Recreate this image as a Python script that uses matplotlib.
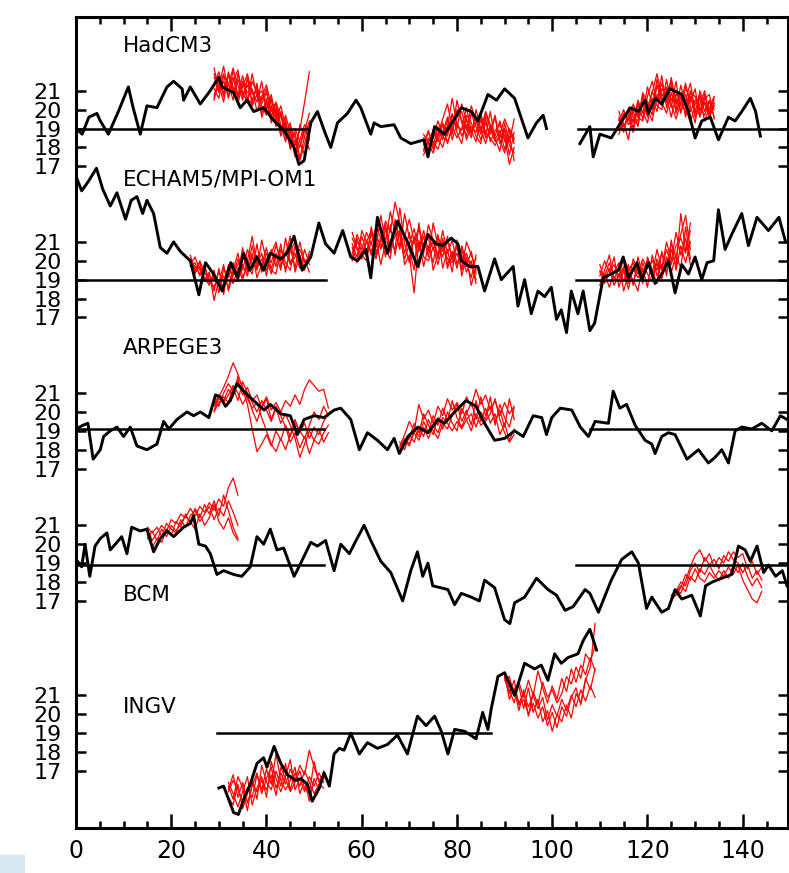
"""
Stacked SST time series: control runs (black) with hindcast ensembles (red)
"""
import matplotlib

matplotlib.use("Agg")
import matplotlib.pyplot as plt
import numpy as np
from matplotlib.patches import Rectangle

nan = np.nan

# ---------------------------------------------------------------
# control runs (year, degC)
# ---------------------------------------------------------------
had_yr = [0, 1.3, 2.7, 4.4, 5.1, 6.8, 8.9, 11.0, 12.0, 13.5, 14.9, 17.0, 19.1, 20.5,
          22.3, 22.6, 24.0, 26.1, 27.9, 30.0, 30.7, 33.1, 34.5, 35.9, 37.3, 39.4, 41.6,
          43.7, 45.8, 46.8, 47.9, 49.3, 50.7, 52.4, 53.5, 54.9, 57.0, 58.8, 59.8, 61.9,
          62.6, 64.0, 66.8, 68.2, 70.3, 73.1, 73.9, 75.3, 77.4, 79.2, 80.9, 83.0, 84.4,
          86.5, 88.3, 90.0, 92.1, 94.9, 96.7, 98.1, 98.8, 102.0, 105.8, 107.9, 108.6,
          110.0, 112.4, 114.6, 116.4, 118.1, 119.5, 120.2, 121.6, 123.0, 124.7, 127.2,
          128.6, 130.0, 131.4, 133.2, 134.9, 137.0, 138.4, 139.8, 141.6, 142.7, 143.7]
had_t = [19.0, 18.7, 19.6, 19.8, 19.4, 18.7, 19.9, 21.2, 20.1, 18.7, 20.2, 20.1, 21.2, 21.5,
         21.1, 20.5, 21.2, 20.3, 20.9, 21.7, 21.2, 20.9, 20.1, 20.5, 19.9, 20.1, 19.4,
         18.9, 18.0, 17.1, 17.3, 19.3, 19.9, 18.7, 18.0, 19.3, 19.8, 20.5, 20.1, 18.7,
         19.3, 19.1, 19.2, 18.5, 18.2, 18.4, 17.5, 19.1, 18.7, 19.4, 20.1, 19.9, 19.4,
         20.8, 20.5, 21.1, 20.6, 18.5, 19.3, 19.7, 19.0, nan, 18.2, 19.1, 17.5,
         18.7, 18.5, 19.4, 20.1, 19.9, 20.5, 19.8, 20.6, 20.3, 21.1, 20.8,
         19.9, 18.5, 19.4, 19.6, 18.4, 19.6, 19.4, 19.9, 20.6, 19.9, 18.6]

ech_yr = [0.1, 1.2, 2.6, 4.3, 5.6, 7.2, 8.6, 10.4, 11.6, 12.8, 14.0, 14.9, 16.3, 17.7,
          19.1, 20.5, 21.9, 24.0, 25.8, 27.2, 28.9, 30.7, 32.5, 33.9, 35.2, 36.5, 38.0,
          39.4, 40.8, 43.0, 44.3, 45.8, 47.5, 49.3, 51.0, 52.4, 54.2, 56.0, 57.7, 59.1,
          60.9, 61.9, 63.3, 64.7, 65.4, 67.5, 69.6, 71.7, 73.9, 75.6, 77.0, 78.8, 80.2,
          80.9, 82.7, 84.4, 85.8, 87.9, 89.3, 91.8, 92.8, 94.2, 95.6, 97.0, 98.4, 99.8,
          100.9, 101.9, 103.0, 104.0, 105.4, 106.5, 107.9, 108.9, 110.7, 112.4, 113.9,
          114.9, 116.0, 117.8, 118.8, 120.2, 121.6, 123.0, 124.4, 125.8, 127.2, 128.6,
          130.0, 131.4, 132.5, 133.9, 134.9, 136.3, 137.7, 139.8, 141.2, 143.0, 145.4,
          147.6, 149.0]
ech_t = [24.4, 23.7, 24.2, 24.9, 23.8, 22.9, 23.6, 22.2, 23.2, 23.4, 22.5, 23.2, 22.5, 20.7,
         20.4, 21.0, 20.5, 20.0, 18.2, 19.9, 19.3, 18.4, 19.9, 19.1, 20.4, 19.5, 20.2,
         19.5, 20.4, 20.1, 20.4, 21.3, 19.5, 20.2, 22.0, 20.9, 20.4, 21.6, 20.2, 20.0,
         20.6, 19.1, 22.3, 21.0, 20.4, 22.1, 21.0, 19.7, 21.4, 20.9, 20.8, 21.2, 20.9,
         20.0, 19.7, 19.7, 18.4, 20.1, 19.0, 19.7, 17.6, 19.0, 17.2, 18.4, 18.1, 18.6,
         16.9, 17.4, 16.2, 18.4, 17.2, 18.4, 16.3, 16.7, 19.1, 19.3, 19.5,
         20.2, 19.1, 19.9, 19.0, 19.9, 18.8, 19.3, 20.0, 18.3, 19.8, 19.3,
         20.2, 19.0, 19.9, 20.0, 22.7, 20.6, 21.4, 22.5, 20.8, 22.3, 21.6,
         22.3, 21.0]

arp_yr = [0, 1.5, 2.5, 3.6, 5.1, 5.8, 7.2, 8.6, 10.0, 11.4, 12.8, 14.9, 17.0, 18.4, 19.5,
          21.2, 23.3, 24.7, 26.1, 27.9, 29.3, 30.3, 31.4, 32.4, 33.8, 35.2, 37.3, 39.5,
          40.8, 43.0, 45.0, 46.5, 47.9, 50.0, 52.1, 54.2, 55.6, 57.7, 59.5, 61.2, 63.3,
          65.4, 66.8, 67.9, 69.7, 71.8, 73.9, 76.0, 77.4, 79.5, 81.9, 84.0, 85.8, 87.9,
          90.0, 92.1, 93.9, 96.0, 97.8, 98.8, 99.9, 101.7, 104.1, 105.9, 107.6, 109.0,
          111.8, 112.8, 114.2, 115.6, 117.4, 119.5, 120.9, 121.6, 123.0, 124.4, 125.8,
          128.3, 130.7, 132.8, 134.2, 135.6, 137.0, 138.4, 139.8, 141.9, 144.0, 146.1,
          147.9, 149.3]
arp_t = [19.1, 19.3, 19.4, 17.5, 18.0, 18.7, 19.0, 19.2, 18.7, 19.2, 18.2, 18.0, 18.3, 19.5, 19.1,
         19.6, 20.0, 19.8, 20.0, 19.7, 20.9, 20.8, 20.3, 20.6, 21.5, 21.1, 20.6, 20.1,
         20.4, 19.9, 19.8, 18.8, 19.6, 19.8, 19.7, 20.1, 20.2, 19.6, 18.0, 18.9, 18.5,
         18.0, 18.6, 17.8, 18.7, 19.2, 18.9, 19.6, 19.4, 20.0, 20.6, 20.3, 19.4, 18.5,
         18.6, 19.0, 18.7, 19.8, 19.7, 18.8, 19.7, 20.2, 20.1, 19.2, 18.7, 19.5,
         19.4, 21.1, 20.2, 20.4, 19.3, 18.5, 18.3, 17.8, 18.7, 18.9, 18.8,
         17.5, 18.0, 17.3, 17.6, 18.0, 17.3, 19.0, 19.2, 19.1, 19.4, 19.0,
         19.8, 19.6]

bcm_yr = [0, 1.2, 1.9, 2.9, 4.0, 5.1, 6.5, 7.2, 8.6, 9.6, 10.7, 11.7, 13.5, 14.9, 16.3,
          17.7, 19.1, 20.5, 22.6, 24.0, 24.7, 25.8, 27.2, 28.2, 29.6, 31.0, 33.1, 34.8,
          36.6, 38.0, 39.4, 40.8, 42.2, 43.6, 45.8, 47.2, 49.3, 50.7, 52.4, 54.2, 55.6,
          57.4, 58.4, 60.5, 61.9, 64.0, 66.1, 68.6, 70.3, 71.7, 72.8, 73.9, 74.9, 78.1,
          79.5, 80.9, 83.0, 84.7, 85.8, 87.9, 90.0, 91.1, 92.1, 94.2, 96.7, 99.1, 100.9,
          102.7, 104.4, 106.9, 107.9, 109.7, 112.4, 114.6, 116.7, 118.1, 119.8, 120.9,
          123.0, 124.4, 125.8, 127.2, 129.3, 131.1, 132.2, 133.6, 135.6, 137.7, 139.1,
          140.5, 141.6, 143.0, 144.4, 145.4, 146.9, 148.3, 149.3]
bcm_t = [19.2, 18.8, 20.0, 18.3, 19.9, 20.3, 20.6, 19.7, 20.1, 20.4, 19.5, 20.9, 20.7, 20.8, 19.6,
         20.3, 20.7, 20.4, 20.9, 21.1, 21.5, 20.0, 19.9, 19.5, 18.4, 18.6, 18.4, 18.3,
         18.8, 20.4, 20.0, 20.8, 19.7, 19.8, 18.3, 19.0, 20.1, 19.9, 20.2, 18.6, 20.0,
         19.5, 20.0, 21.0, 20.2, 19.1, 18.5, 17.0, 18.6, 19.6, 18.3, 19.0, 17.8, 17.6,
         16.8, 17.4, 17.2, 17.0, 18.1, 17.7, 16.0, 15.8, 16.9, 17.2, 18.2, 17.6, 17.3,
         16.5, 16.7, 17.6, 17.4, 16.4, 18.1, 19.2, 19.6, 19.0, 16.6, 17.2,
         16.4, 16.6, 17.6, 17.1, 17.3, 16.2, 17.8, 18.0, 18.2, 18.4, 19.9,
         19.7, 19.1, 19.9, 18.5, 18.9, 18.3, 18.6, 17.8]

ing_yr = [30.0, 31.0, 33.1, 34.1, 35.5, 36.6, 38.0, 39.4, 40.1, 41.6, 43.0, 44.4, 46.1,
          47.2, 48.6, 49.6, 51.1, 52.1, 53.2, 54.2, 55.3, 56.3, 57.7, 59.5, 61.2, 63.3,
          65.4, 67.5, 69.6, 71.7, 73.5, 75.3, 76.7, 78.1, 79.5, 81.6, 84.0, 85.4, 86.5,
          87.2, 88.6, 90.0, 92.1, 94.2, 96.3, 97.7, 99.1, 100.5, 101.9, 103.3, 105.4,
          106.5, 107.9, 109.3]
ing_t = [16.1, 16.2, 14.8, 14.7, 15.7, 16.3, 17.4, 17.7, 17.2, 18.3, 17.4, 16.8, 16.5,
         16.6, 16.3, 15.4, 16.1, 16.9, 16.2, 17.9, 18.2, 18.1, 19.0, 17.9, 18.5, 18.2,
         18.4, 18.9, 17.9, 19.9, 19.4, 19.9, 19.1, 17.9, 19.2, 19.1, 18.7, 20.1, 19.2,
         20.3, 22.0, 22.2, 21.0, 22.7, 22.4, 22.6, 21.8, 23.2, 22.7, 23.0, 23.2,
         23.9, 24.5, 23.4]

# ---------------------------------------------------------------
# hindcast ensembles: first year + annual values per member
# ---------------------------------------------------------------
had_e1_start = 29
had_e1 = [
    [21.4, 22.0, 21.1, 21.8, 20.9, 21.6, 20.8, 21.3, 20.5, 21.2, 20.3, 20.9, 19.9, 20.4, 19.6, 19.0, 18.6, 18.1, 18.9, 20.4, 22.0],
    [20.8, 21.2, 22.3, 21.0, 21.7, 20.6, 21.5, 20.4, 21.9, 20.7, 21.0, 20.1, 20.6, 19.4, 19.9, 18.7, 19.3, 17.8, 18.4, 19.2, 18.9],
    [21.9, 20.9, 21.5, 20.7, 22.1, 21.3, 20.5, 21.7, 20.2, 20.8, 19.8, 20.6, 19.3, 20.1, 18.9, 19.5, 18.2, 18.8, 17.4, 18.6, 19.4],
    [20.5, 21.6, 20.7, 21.9, 21.2, 20.3, 21.4, 20.9, 21.1, 19.9, 20.7, 21.3, 20.2, 19.1, 19.8, 18.5, 18.9, 17.6, 18.1, 19.0, 18.4],
    [21.1, 20.6, 21.8, 21.4, 20.5, 21.9, 20.9, 20.4, 21.5, 20.9, 20.2, 19.7, 20.5, 19.8, 18.6, 19.3, 17.9, 18.4, 17.3, 18.2, 19.1],
    [21.7, 21.3, 20.4, 22.0, 21.1, 20.8, 21.8, 20.6, 20.3, 21.4, 19.6, 20.4, 19.6, 20.3, 19.2, 18.3, 19.1, 18.5, 18.0, 18.9, 19.8],
    [22.2, 21.0, 21.9, 20.6, 21.5, 22.1, 20.7, 21.6, 21.0, 20.4, 21.5, 20.0, 20.8, 19.5, 20.2, 19.1, 18.0, 19.0, 18.3, 17.6, 18.5],
    [20.6, 21.8, 20.9, 21.3, 22.2, 20.7, 21.2, 21.9, 20.8, 21.0, 20.5, 21.1, 19.7, 20.0, 18.8, 19.7, 18.8, 17.5, 19.2, 18.5, 17.9],
]
had_e2_start = 73
had_e2 = [
    [18.4, 17.9, 18.8, 18.3, 19.2, 18.6, 19.7, 19.0, 20.3, 19.4, 18.8, 19.6, 18.9, 19.9, 19.2, 18.6, 19.4, 18.3, 19.0, 18.5],
    [17.8, 18.5, 18.1, 19.0, 18.4, 19.5, 18.7, 20.5, 19.3, 18.6, 19.8, 19.1, 18.4, 19.3, 18.7, 19.6, 18.2, 18.9, 17.6, 18.8],
    [18.7, 18.2, 17.7, 18.6, 19.3, 18.2, 19.1, 18.5, 19.0, 20.1, 18.9, 18.3, 19.5, 18.6, 19.9, 18.4, 18.9, 17.9, 18.6, 17.3],
    [18.1, 18.8, 18.3, 17.9, 18.8, 19.6, 18.4, 19.3, 18.6, 19.2, 18.5, 20.0, 19.0, 18.2, 19.1, 18.5, 17.8, 19.3, 18.3, 19.5],
    [17.6, 18.3, 18.9, 18.5, 18.0, 18.9, 19.8, 18.8, 18.2, 19.7, 19.3, 18.6, 18.2, 19.6, 18.3, 18.9, 19.2, 18.6, 17.1, 18.0],
    [18.5, 17.7, 18.5, 19.1, 18.6, 18.3, 18.9, 20.0, 19.5, 18.4, 19.1, 18.8, 19.7, 18.8, 18.5, 18.1, 18.7, 19.5, 18.9, 18.2],
    [18.2, 18.9, 17.9, 18.7, 19.5, 20.3, 19.0, 19.6, 19.9, 18.9, 20.2, 19.4, 18.7, 19.8, 19.0, 18.3, 18.5, 19.0, 18.1, 17.7],
    [17.9, 18.3, 18.6, 19.4, 18.7, 19.1, 20.6, 19.2, 18.9, 19.5, 18.7, 19.3, 19.9, 18.5, 18.9, 19.7, 18.4, 17.7, 18.8, 18.4],
]
had_e3_start = 114
had_e3 = [
    [19.2, 19.8, 19.4, 20.3, 19.7, 20.6, 20.1, 20.9, 21.9, 20.7, 21.2, 20.5, 21.0, 20.2, 20.8, 19.9, 20.5, 20.1, 19.7, 20.4, 20.0],
    [18.7, 19.5, 20.0, 19.3, 20.5, 19.8, 21.2, 20.3, 20.6, 21.4, 20.4, 21.7, 20.3, 20.9, 19.6, 20.7, 19.8, 21.0, 20.3, 19.6, 20.2],
    [19.6, 18.9, 19.7, 19.9, 19.1, 20.8, 19.6, 21.0, 20.2, 20.0, 21.1, 20.1, 21.5, 19.8, 21.2, 20.4, 21.1, 19.6, 20.6, 20.8, 19.5],
    [18.9, 19.3, 18.4, 20.1, 19.6, 19.4, 20.3, 19.7, 21.3, 20.4, 19.8, 20.9, 20.0, 21.3, 20.1, 19.3, 20.3, 20.6, 19.4, 20.1, 20.7],
    [19.9, 19.1, 19.6, 18.8, 20.2, 19.9, 19.3, 20.6, 19.9, 21.1, 20.7, 19.6, 20.8, 20.6, 19.8, 21.0, 19.6, 20.3, 21.0, 19.8, 20.3],
    [19.4, 20.0, 19.2, 19.5, 19.2, 20.4, 20.0, 19.4, 20.8, 20.2, 21.6, 20.3, 19.5, 20.4, 21.4, 20.2, 19.3, 20.8, 19.9, 20.5, 19.6],
    [19.0, 19.7, 19.9, 19.0, 20.4, 19.5, 20.7, 21.5, 20.4, 21.8, 20.1, 21.3, 20.6, 19.9, 20.5, 21.4, 20.0, 19.7, 20.4, 19.9, 20.6],
    [19.5, 18.8, 20.1, 19.6, 19.4, 20.9, 20.4, 20.0, 21.6, 20.5, 20.9, 21.5, 19.8, 20.7, 20.3, 20.9, 20.7, 19.9, 20.8, 19.7, 20.4],
]

ech_e1_start = 24
ech_e1 = [
    [20.0, 19.7, 19.3, 19.6, 19.0, 18.6, 19.4, 18.9, 19.7, 19.2, 20.1, 19.5, 20.6, 19.8, 20.3, 19.6, 20.4, 19.9, 20.8, 20.2, 19.6, 20.5, 21.0, 20.1, 19.7, 20.3],
    [19.8, 20.2, 19.5, 19.1, 18.7, 19.5, 18.3, 19.6, 19.1, 19.9, 19.3, 20.7, 19.4, 20.2, 19.5, 21.1, 20.0, 19.6, 20.4, 19.5, 21.2, 19.9, 20.4, 19.6, 20.6, 19.8],
    [20.3, 19.5, 19.9, 19.0, 19.4, 17.9, 19.0, 18.5, 19.4, 18.8, 19.6, 19.0, 20.0, 21.3, 19.8, 20.4, 19.2, 20.6, 19.7, 20.9, 19.4, 20.7, 19.6, 21.0, 19.9, 20.1],
    [19.7, 19.9, 19.2, 19.8, 18.8, 19.2, 18.7, 19.2, 18.6, 19.5, 20.4, 19.1, 19.7, 19.3, 20.9, 19.4, 20.1, 19.3, 20.2, 20.0, 20.3, 21.3, 19.4, 20.3, 19.5, 20.5],
    [20.1, 19.4, 19.7, 18.9, 19.3, 18.4, 19.6, 18.2, 19.8, 19.0, 18.9, 19.8, 19.2, 20.4, 19.1, 19.8, 20.7, 19.5, 19.3, 20.6, 19.9, 19.5, 20.8, 19.8, 20.1, 19.4],
    [19.9, 19.3, 20.0, 19.4, 18.9, 19.1, 18.8, 19.8, 18.4, 19.3, 19.8, 20.3, 19.6, 20.8, 19.6, 20.1, 19.5, 20.4, 21.0, 19.7, 20.5, 19.8, 20.2, 20.6, 19.9, 20.2],
]
ech_e2_start = 58
ech_e2 = [
    [20.4, 21.0, 20.6, 21.5, 20.9, 21.8, 21.2, 22.1, 21.5, 23.1, 22.0, 21.3, 22.2, 21.0, 21.7, 20.8, 21.4, 20.6, 21.3, 20.5, 21.0, 20.2, 20.7, 19.9, 20.4, 19.6, 20.1],
    [20.9, 20.2, 21.3, 20.5, 21.4, 20.7, 22.4, 21.0, 22.6, 21.5, 20.6, 22.5, 21.2, 20.9, 21.8, 20.4, 21.9, 21.1, 20.3, 21.6, 20.4, 21.1, 19.8, 20.6, 19.7, 20.5, 19.3],
    [21.2, 20.6, 20.1, 21.1, 20.3, 21.5, 20.6, 21.7, 20.4, 21.9, 21.3, 20.1, 20.9, 21.7, 20.5, 21.3, 20.2, 22.0, 20.8, 20.2, 21.3, 20.0, 20.9, 20.3, 19.4, 20.0, 18.8],
    [20.0, 21.4, 20.8, 20.2, 21.0, 20.1, 21.3, 20.2, 21.9, 20.3, 21.7, 19.8, 20.3, 18.3, 21.1, 19.7, 20.8, 19.9, 21.4, 19.6, 20.6, 19.4, 21.1, 19.2, 20.2, 18.7, 19.7],
    [20.7, 19.9, 21.6, 21.0, 20.5, 21.2, 19.8, 21.0, 20.9, 20.6, 22.8, 20.9, 19.9, 21.3, 19.6, 20.9, 21.3, 19.5, 20.3, 21.0, 19.8, 20.5, 19.6, 20.8, 19.9, 19.1, 20.3],
    [21.5, 20.7, 20.3, 20.0, 21.8, 20.5, 20.9, 20.6, 20.1, 22.2, 20.8, 21.4, 20.6, 19.5, 22.0, 20.2, 20.0, 20.7, 19.8, 20.8, 20.1, 19.9, 20.4, 19.6, 21.0, 20.3, 19.5],
    [20.1, 21.2, 20.4, 21.0, 21.6, 20.3, 21.1, 21.9, 20.7, 21.3, 21.6, 20.4, 21.5, 20.1, 20.6, 21.6, 20.5, 21.0, 20.1, 21.2, 19.6, 20.3, 20.8, 19.5, 20.1, 19.9, 19.0],
]
ech_e3_start = 110
ech_e3 = [
    [19.2, 20.0, 19.4, 19.8, 19.1, 20.2, 19.5, 19.9, 19.3, 20.1, 19.6, 20.0, 19.5, 20.4, 19.8, 20.9, 20.2, 21.4, 22.4, 20.6],
    [18.7, 19.5, 20.3, 19.0, 19.7, 18.9, 19.8, 18.7, 20.2, 19.2, 19.9, 19.3, 20.6, 19.6, 21.0, 20.0, 21.5, 20.3, 21.2, 19.8],
    [19.5, 18.8, 19.3, 20.2, 18.6, 19.5, 18.5, 19.6, 19.1, 19.6, 18.6, 20.3, 19.2, 19.8, 19.4, 20.6, 19.7, 22.5, 20.5, 21.6],
    [18.9, 19.3, 18.6, 19.4, 19.9, 18.4, 19.3, 19.0, 18.4, 19.9, 19.3, 18.9, 19.9, 19.0, 20.2, 19.4, 20.3, 19.6, 21.8, 20.1],
    [19.8, 19.0, 19.6, 18.7, 19.3, 19.6, 18.8, 20.1, 19.5, 18.8, 20.2, 19.5, 18.8, 20.5, 19.2, 21.1, 19.5, 20.8, 19.9, 21.0],
    [19.4, 19.2, 19.9, 19.1, 18.9, 19.7, 19.4, 18.8, 19.8, 19.4, 20.0, 19.1, 20.1, 19.5, 20.6, 19.8, 20.8, 21.2, 20.4, 22.0],
]

arp_e1_start = 29
arp_e1 = [
    [20.3, 20.8, 21.3, 21.9, 22.6, 22.0, 21.2, 20.4, 19.1, 17.9, 18.3, 18.8, 18.2, 19.0, 18.5, 19.3, 18.7, 19.6, 18.9, 19.4, 18.6, 19.2, 18.8, 19.5, 19.9],
    [20.6, 20.3, 21.0, 21.5, 21.1, 21.7, 20.9, 21.3, 20.6, 20.9, 20.2, 20.7, 19.6, 20.3, 19.8, 19.2, 18.4, 18.9, 18.1, 18.7, 17.8, 18.5, 19.1, 18.4, 18.9],
    [20.1, 20.7, 20.5, 20.9, 21.4, 21.0, 20.4, 20.9, 20.1, 19.5, 20.3, 20.8, 20.1, 20.5, 20.0, 20.6, 20.3, 20.9, 20.4, 21.2, 21.7, 21.4, 21.1, 21.2, 20.2],
    [20.4, 20.9, 20.6, 21.2, 20.8, 21.9, 21.3, 20.7, 20.2, 20.5, 19.7, 19.0, 18.3, 17.9, 18.6, 18.0, 18.8, 19.4, 19.0, 18.6, 19.3, 20.0, 19.6, 20.3, 19.8],
    [20.0, 20.5, 20.8, 20.5, 21.3, 20.6, 21.6, 21.0, 20.5, 20.0, 20.6, 20.1, 19.5, 20.2, 19.4, 19.9, 19.3, 18.6, 17.6, 18.3, 19.0, 18.5, 18.3, 18.9, 19.3],
]
arp_e2_start = 68
arp_e2 = [
    [18.2, 18.8, 19.5, 19.0, 20.4, 19.6, 20.1, 19.4, 20.3, 19.8, 20.7, 20.1, 20.5, 19.9, 20.8, 20.3, 21.2, 20.4, 20.9, 20.1, 20.6, 19.8, 20.5, 19.9, 20.3],
    [17.9, 18.5, 18.2, 19.1, 18.7, 19.5, 18.9, 19.8, 19.3, 20.2, 19.5, 20.6, 19.7, 19.2, 19.9, 20.5, 19.6, 20.8, 19.8, 20.3, 19.5, 20.1, 19.2, 20.7, 19.6],
    [18.4, 18.0, 18.8, 18.4, 19.2, 18.7, 19.6, 19.0, 18.6, 19.4, 19.1, 19.8, 20.4, 19.5, 20.1, 19.3, 20.6, 19.5, 20.2, 19.4, 19.9, 18.8, 19.4, 18.5, 19.1],
    [17.8, 18.3, 18.6, 19.4, 18.9, 19.9, 19.3, 18.8, 19.7, 19.1, 20.0, 19.4, 19.0, 20.2, 19.6, 19.9, 19.2, 20.0, 19.6, 20.8, 19.3, 20.4, 19.7, 19.2, 20.2],
    [18.1, 18.6, 18.3, 18.9, 18.5, 19.2, 18.6, 19.3, 18.9, 19.7, 19.4, 19.0, 19.5, 19.1, 19.6, 19.0, 19.9, 19.3, 19.5, 19.9, 20.7, 19.6, 18.9, 18.4, 18.8],
]

bcm_e1_start = 15
bcm_e1 = [
    [20.8, 20.2, 20.6, 21.0, 20.7, 21.3, 21.1, 21.6, 21.4, 21.9, 21.5, 22.0, 21.7, 22.2, 21.8, 22.4, 22.0, 23.0, 23.5, 22.6],
    [20.5, 19.8, 20.3, 20.1, 20.8, 20.5, 21.2, 20.9, 21.6, 21.1, 21.9, 21.4, 22.1, 21.6, 22.3, 21.5, 22.6, 21.8, 20.9, 20.3],
    [20.9, 20.6, 20.9, 20.4, 21.1, 20.8, 20.6, 21.3, 20.9, 21.5, 21.8, 21.2, 21.6, 22.0, 21.3, 21.9, 21.5, 22.3, 21.7, 21.0],
    [20.3, 20.7, 20.2, 20.8, 20.4, 21.0, 20.7, 21.1, 21.5, 21.2, 20.8, 21.6, 21.0, 21.4, 22.1, 21.2, 20.8, 21.4, 20.6, 20.2],
]
bcm_e2_start = 125
bcm_e2 = [
    [17.2, 17.6, 17.4, 18.1, 18.8, 19.4, 19.7, 19.1, 19.5, 18.8, 19.3, 19.0, 19.6, 19.2, 19.0, 18.5, 18.9, 18.2, 18.6, 18.1],
    [17.0, 17.4, 17.8, 17.5, 18.3, 18.0, 18.7, 18.4, 18.9, 19.2, 18.7, 19.4, 19.1, 19.6, 19.3, 19.5, 18.7, 19.1, 18.4, 18.8],
    [17.1, 17.3, 17.7, 18.4, 18.1, 18.7, 18.2, 18.0, 18.5, 18.2, 18.6, 18.3, 18.8, 18.4, 18.9, 18.1, 17.6, 17.1, 16.9, 17.5],
    [17.3, 17.5, 18.0, 17.8, 18.6, 19.0, 18.5, 19.3, 18.9, 18.4, 18.1, 18.6, 18.2, 18.9, 18.5, 19.0, 18.3, 17.8, 18.2, 17.7],
]

ing_e1_start = 32
ing_e1 = [
    [16.0, 16.8, 15.6, 16.4, 15.3, 16.2, 16.9, 15.8, 16.6, 17.2, 16.1, 16.9, 16.3, 17.1, 16.5, 17.3, 16.8, 18.1, 17.2, 16.5, 16.8],
    [15.6, 15.2, 16.3, 15.0, 15.8, 16.6, 15.5, 17.3, 16.4, 16.0, 17.0, 16.2, 17.4, 16.0, 16.9, 16.2, 17.0, 16.4, 15.8, 16.3, 16.1],
    [16.4, 15.8, 15.1, 15.9, 16.7, 15.2, 16.1, 16.7, 15.6, 17.5, 16.6, 15.9, 16.7, 17.6, 16.0, 16.6, 15.9, 16.7, 16.2, 16.9, 16.4],
    [15.9, 16.5, 16.0, 15.4, 16.1, 15.6, 16.8, 16.0, 17.1, 16.3, 17.9, 16.5, 16.0, 16.5, 17.2, 15.8, 16.5, 15.4, 16.6, 16.0, 17.0],
    [16.2, 15.5, 16.7, 16.1, 14.9, 16.4, 15.9, 16.5, 16.0, 16.8, 15.7, 17.2, 16.6, 15.9, 16.4, 17.0, 16.1, 15.8, 17.5, 16.4, 16.6],
]
ing_e2_start = 90
ing_e2 = [
    [22.2, 21.6, 21.2, 20.6, 21.1, 20.4, 21.0, 20.3, 20.9, 19.7, 20.5, 19.9, 20.8, 20.2, 21.0, 20.4, 21.3, 20.7, 21.5, 20.9],
    [21.8, 22.0, 21.0, 21.5, 20.3, 21.4, 20.1, 20.8, 19.6, 20.2, 19.1, 20.0, 19.6, 20.5, 19.8, 21.1, 20.6, 21.9, 21.3, 22.4],
    [22.0, 21.3, 20.6, 21.7, 20.9, 21.8, 21.0, 22.3, 21.4, 20.6, 21.5, 20.8, 21.9, 21.2, 22.4, 21.7, 22.6, 22.1, 23.0, 22.3],
    [21.9, 21.1, 21.8, 20.5, 20.8, 20.0, 20.6, 19.8, 20.4, 19.4, 20.1, 19.3, 20.4, 19.9, 20.9, 21.4, 20.5, 21.8, 22.5, 24.8],
    [22.1, 20.8, 21.4, 20.2, 21.3, 19.9, 21.2, 20.5, 21.7, 20.9, 21.3, 20.6, 21.1, 22.0, 21.6, 22.5, 21.9, 23.2, 22.8, 23.6],
]

# reference levels: (first year, last year, degC)
had_ref = [(0, 49, 19.0), (105.5, 150, 19.0)]
ech_ref = [(0, 52.5, 19.0), (105, 150, 19.0)]
arp_ref = [(0, 52, 19.1), (108, 150, 19.1)]
bcm_ref = [(0, 52, 18.9), (105, 150, 18.9)]
ing_ref = [(29.6, 87.2, 19.0)]

model_names = ["HadCM3", "ECHAM5/MPI-OM1", "ARPEGE3", "BCM", "INGV"]
tick_vals = [17, 18, 19, 20, 21]

# -------------------------------------------
# stacking: each panel is shifted up by an offset
# -------------------------------------------
panels = [
    (had_yr, had_t, [(had_e1_start, had_e1), (had_e2_start, had_e2), (had_e3_start, had_e3)], had_ref, 32, 55.35),
    (ech_yr, ech_t, [(ech_e1_start, ech_e1), (ech_e2_start, ech_e2), (ech_e3_start, ech_e3)], ech_ref, 24, 48.3),
    (arp_yr, arp_t, [(arp_e1_start, arp_e1), (arp_e2_start, arp_e2)], arp_ref, 16, 39.4),
    (bcm_yr, bcm_t, [(bcm_e1_start, bcm_e1), (bcm_e2_start, bcm_e2)], bcm_ref, 9, 26.3),
    (ing_yr, ing_t, [(ing_e1_start, ing_e1), (ing_e2_start, ing_e2)], ing_ref, 0, 20.4),
]

fig = plt.figure(figsize=(7.89, 8.73), dpi=100)
ax = fig.add_axes([0.0963, 0.0515, 0.9024, 0.929])

yticks = []
ylabels = []
for (yr, t, ensembles, refs, off, label_y), name in zip(panels, model_names):
    for start, members in ensembles:
        for m in members:
            years = np.arange(start, start + len(m))
            ax.plot(years, np.array(m) + off, color="red", lw=0.9, zorder=2)
    for x0, x1, lev in refs:
        ax.plot([x0, x1], [lev + off, lev + off], color="black", lw=1.8, zorder=3)
    ax.plot(yr, np.array(t) + off, color="black", lw=2.1, zorder=4)
    ax.text(9.9, label_y, name, fontsize=15.5, va="center", ha="left")
    yticks += [v + off for v in tick_vals]
    ylabels += [str(v) for v in tick_vals]

ax.set_xlim(0, 149.5)
ax.set_ylim(13.98, 56.9)
ax.set_xticks(np.arange(0, 150, 20))
ax.set_xticks(np.arange(0, 150, 5), minor=True)
ax.set_yticks(yticks)
ax.set_yticklabels(ylabels)

ax.tick_params(axis="both", which="both", direction="in", top=True, right=True,
               width=1.8, labelsize=17)
ax.tick_params(axis="y", labelsize=16)
ax.tick_params(axis="x", which="major", length=10, pad=8)
ax.tick_params(axis="x", which="minor", length=5)
ax.tick_params(axis="y", which="major", length=7, pad=10)
for s in ax.spines.values():
    s.set_linewidth(2.2)

# small light patch in the bottom left corner of the original scan
fig.add_artist(Rectangle((0, 0), 25 / 789, 18 / 873, transform=fig.transFigure,
                         facecolor="#d3e8ef", edgecolor="none"))

fig.savefig("out.png", dpi=100)
